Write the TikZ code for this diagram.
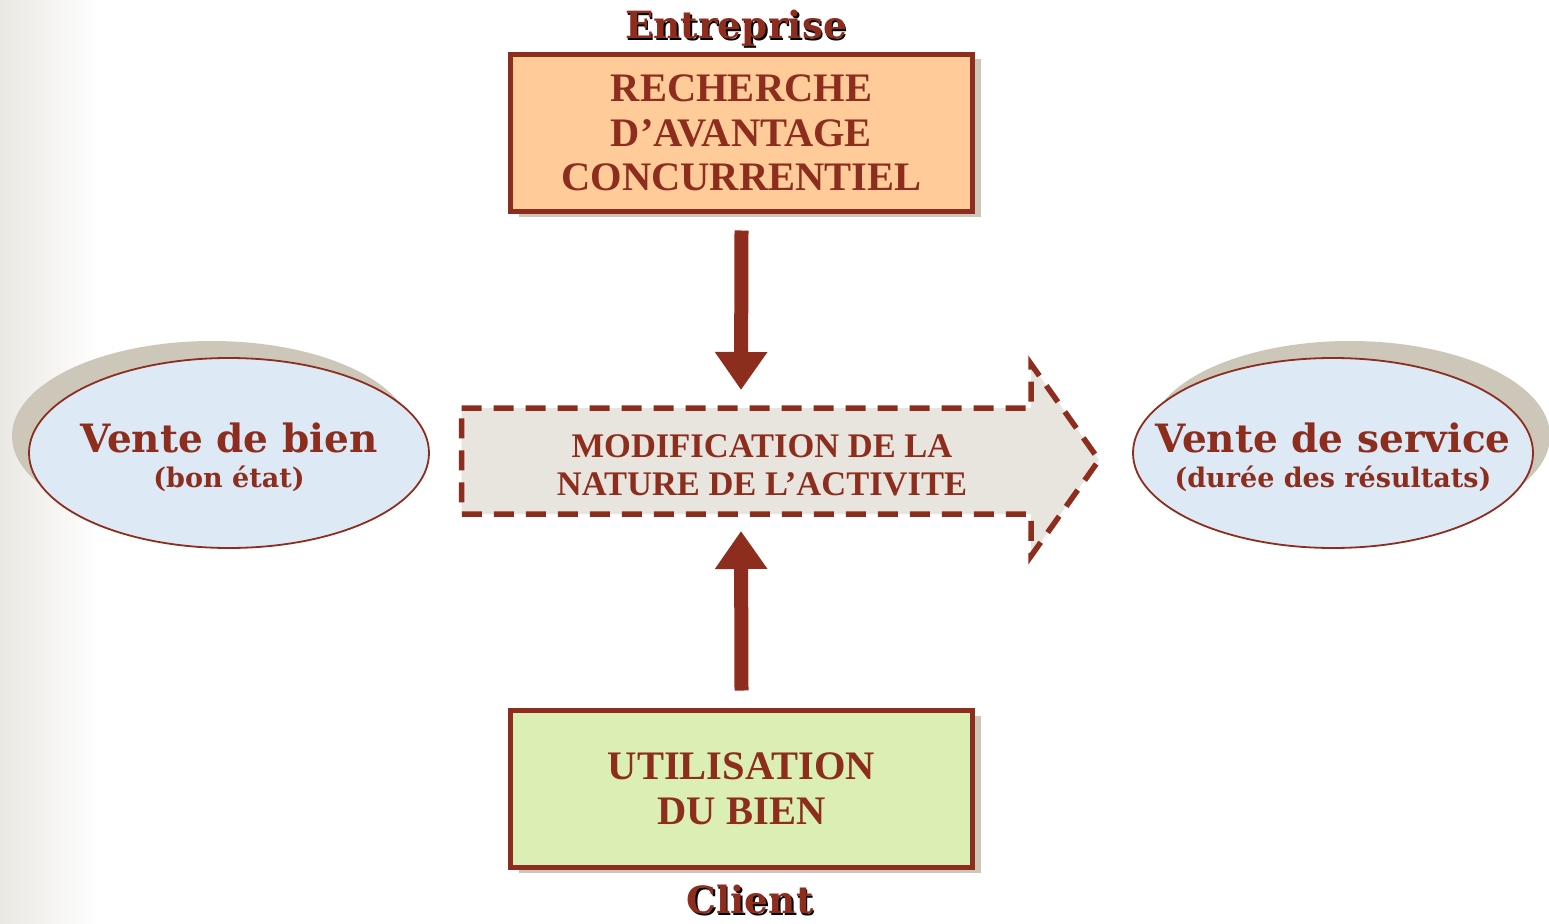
\documentclass[tikz,border=0pt]{standalone}
\usepackage{fontspec}
\setmainfont{Liberation Serif}
\newfontfamily\dvs{DejaVu Serif}
\usetikzlibrary{shapes.geometric,shadows,arrows.meta}
\definecolor{brn}{RGB}{140,45,30}
\definecolor{peach}{RGB}{255,204,153}
\definecolor{lgreen}{RGB}{219,239,180}
\definecolor{lblue}{RGB}{221,233,245}
\definecolor{arrfill}{RGB}{232,229,222}
\definecolor{shd}{RGB}{205,199,186}
\definecolor{bgl}{RGB}{234,232,226}
\tikzset{
  box/.style={draw=brn, line width=5pt, minimum width=462pt, minimum height=157pt, inner sep=0pt,
    text=brn, align=center, font=\fontsize{40.5}{44.5}\selectfont\bfseries,
    drop shadow={shadow xshift=8pt, shadow yshift=-5pt, fill=shd, opacity=1}},
  oval/.style={ellipse, draw=brn, line width=1.8pt, fill=lblue, minimum width=400pt, minimum height=190pt, inner sep=0pt},
  bigtxt/.style={text=brn, font=\dvs\fontsize{39}{42}\selectfont\bfseries, anchor=base, inner sep=0pt},
  smalltxt/.style={text=brn, font=\dvs\fontsize{27}{30}\selectfont\bfseries, anchor=base, inner sep=0pt},
  titletxt/.style={font=\dvs\fontsize{37.5}{40}\selectfont\bfseries, anchor=base, inner sep=0pt},
  thickarr/.style={draw=brn, line width=14pt, -{Triangle[width=50pt,length=38pt]}},
  dashout/.style={draw=brn, line width=5.5pt, dash pattern=on 20pt off 12pt},
}
\begin{document}
\begin{tikzpicture}[x=1pt,y=-1pt]
\useasboundingbox (0,0) rectangle (1549,923);
\shade[left color=bgl, right color=white] (0,0) rectangle (100,923);

% boxes
\node[box, fill=peach] (rech) at (741.5,133) {RECHERCHE\\D’AVANTAGE\\CONCURRENTIEL};
\node[box, fill=lgreen] (util) at (741.5,789) {UTILISATION\\DU BIEN};

% titles with shadow
\node[titletxt, text=black] at (737.5,40.5) {Entreprise};
\node[titletxt, text=brn] (entr) at (736,39) {Entreprise};
\node[titletxt, text=black] at (751.5,915) {Client};
\node[titletxt, text=brn] (cli) at (750,913.5) {Client};

% big dashed arrow
\coordinate (aTL) at (461.5,408);
\coordinate (aNT) at (1031,408);
\coordinate (aHT) at (1031,364);
\coordinate (aTip) at (1099,460);
\coordinate (aHB) at (1031,556);
\coordinate (aNB) at (1031,514);
\coordinate (aBL) at (461.5,514);
\fill[arrfill] (aTL) -- (aNT) -- (aHT) -- (aTip) -- (aHB) -- (aNB) -- (aBL) -- cycle;
\draw[dashout] (aTL) -- (aNT) -- (aHT) -- (aTip) -- (aHB) -- (aNB) -- (aBL) -- cycle;
\node[text=brn, align=center, font=\fontsize{34.5}{38}\selectfont\bfseries, inner sep=0pt] (mod) at (762,465)
  {MODIFICATION DE LA\\NATURE DE L’ACTIVITE};
\coordinate (modtop) at (741,390);
\coordinate (modbot) at (741,531);

% thick arrows
\draw[thickarr] ([yshift=-16.5pt]rech.south) -- (modtop);
\draw[thickarr] ([yshift=17.5pt]util.north) -- (modbot);

% ellipses
\node[oval, drop shadow={shadow xshift=-17pt, shadow yshift=17pt, fill=shd, opacity=1}] (bien) at (229,453) {};
\node[bigtxt] (bienA) at (229,452) {Vente de bien};
\node[smalltxt] (bienB) at (229,487) {(bon état)};

\node[oval, drop shadow={shadow xshift=17pt, shadow yshift=17pt, fill=shd, opacity=1}] (serv) at (1333,453) {};
\node[bigtxt] (servA) at (1333,452) {Vente de service};
\node[smalltxt] (servB) at (1333,487) {(durée des résultats)};
\end{tikzpicture}
\end{document}
